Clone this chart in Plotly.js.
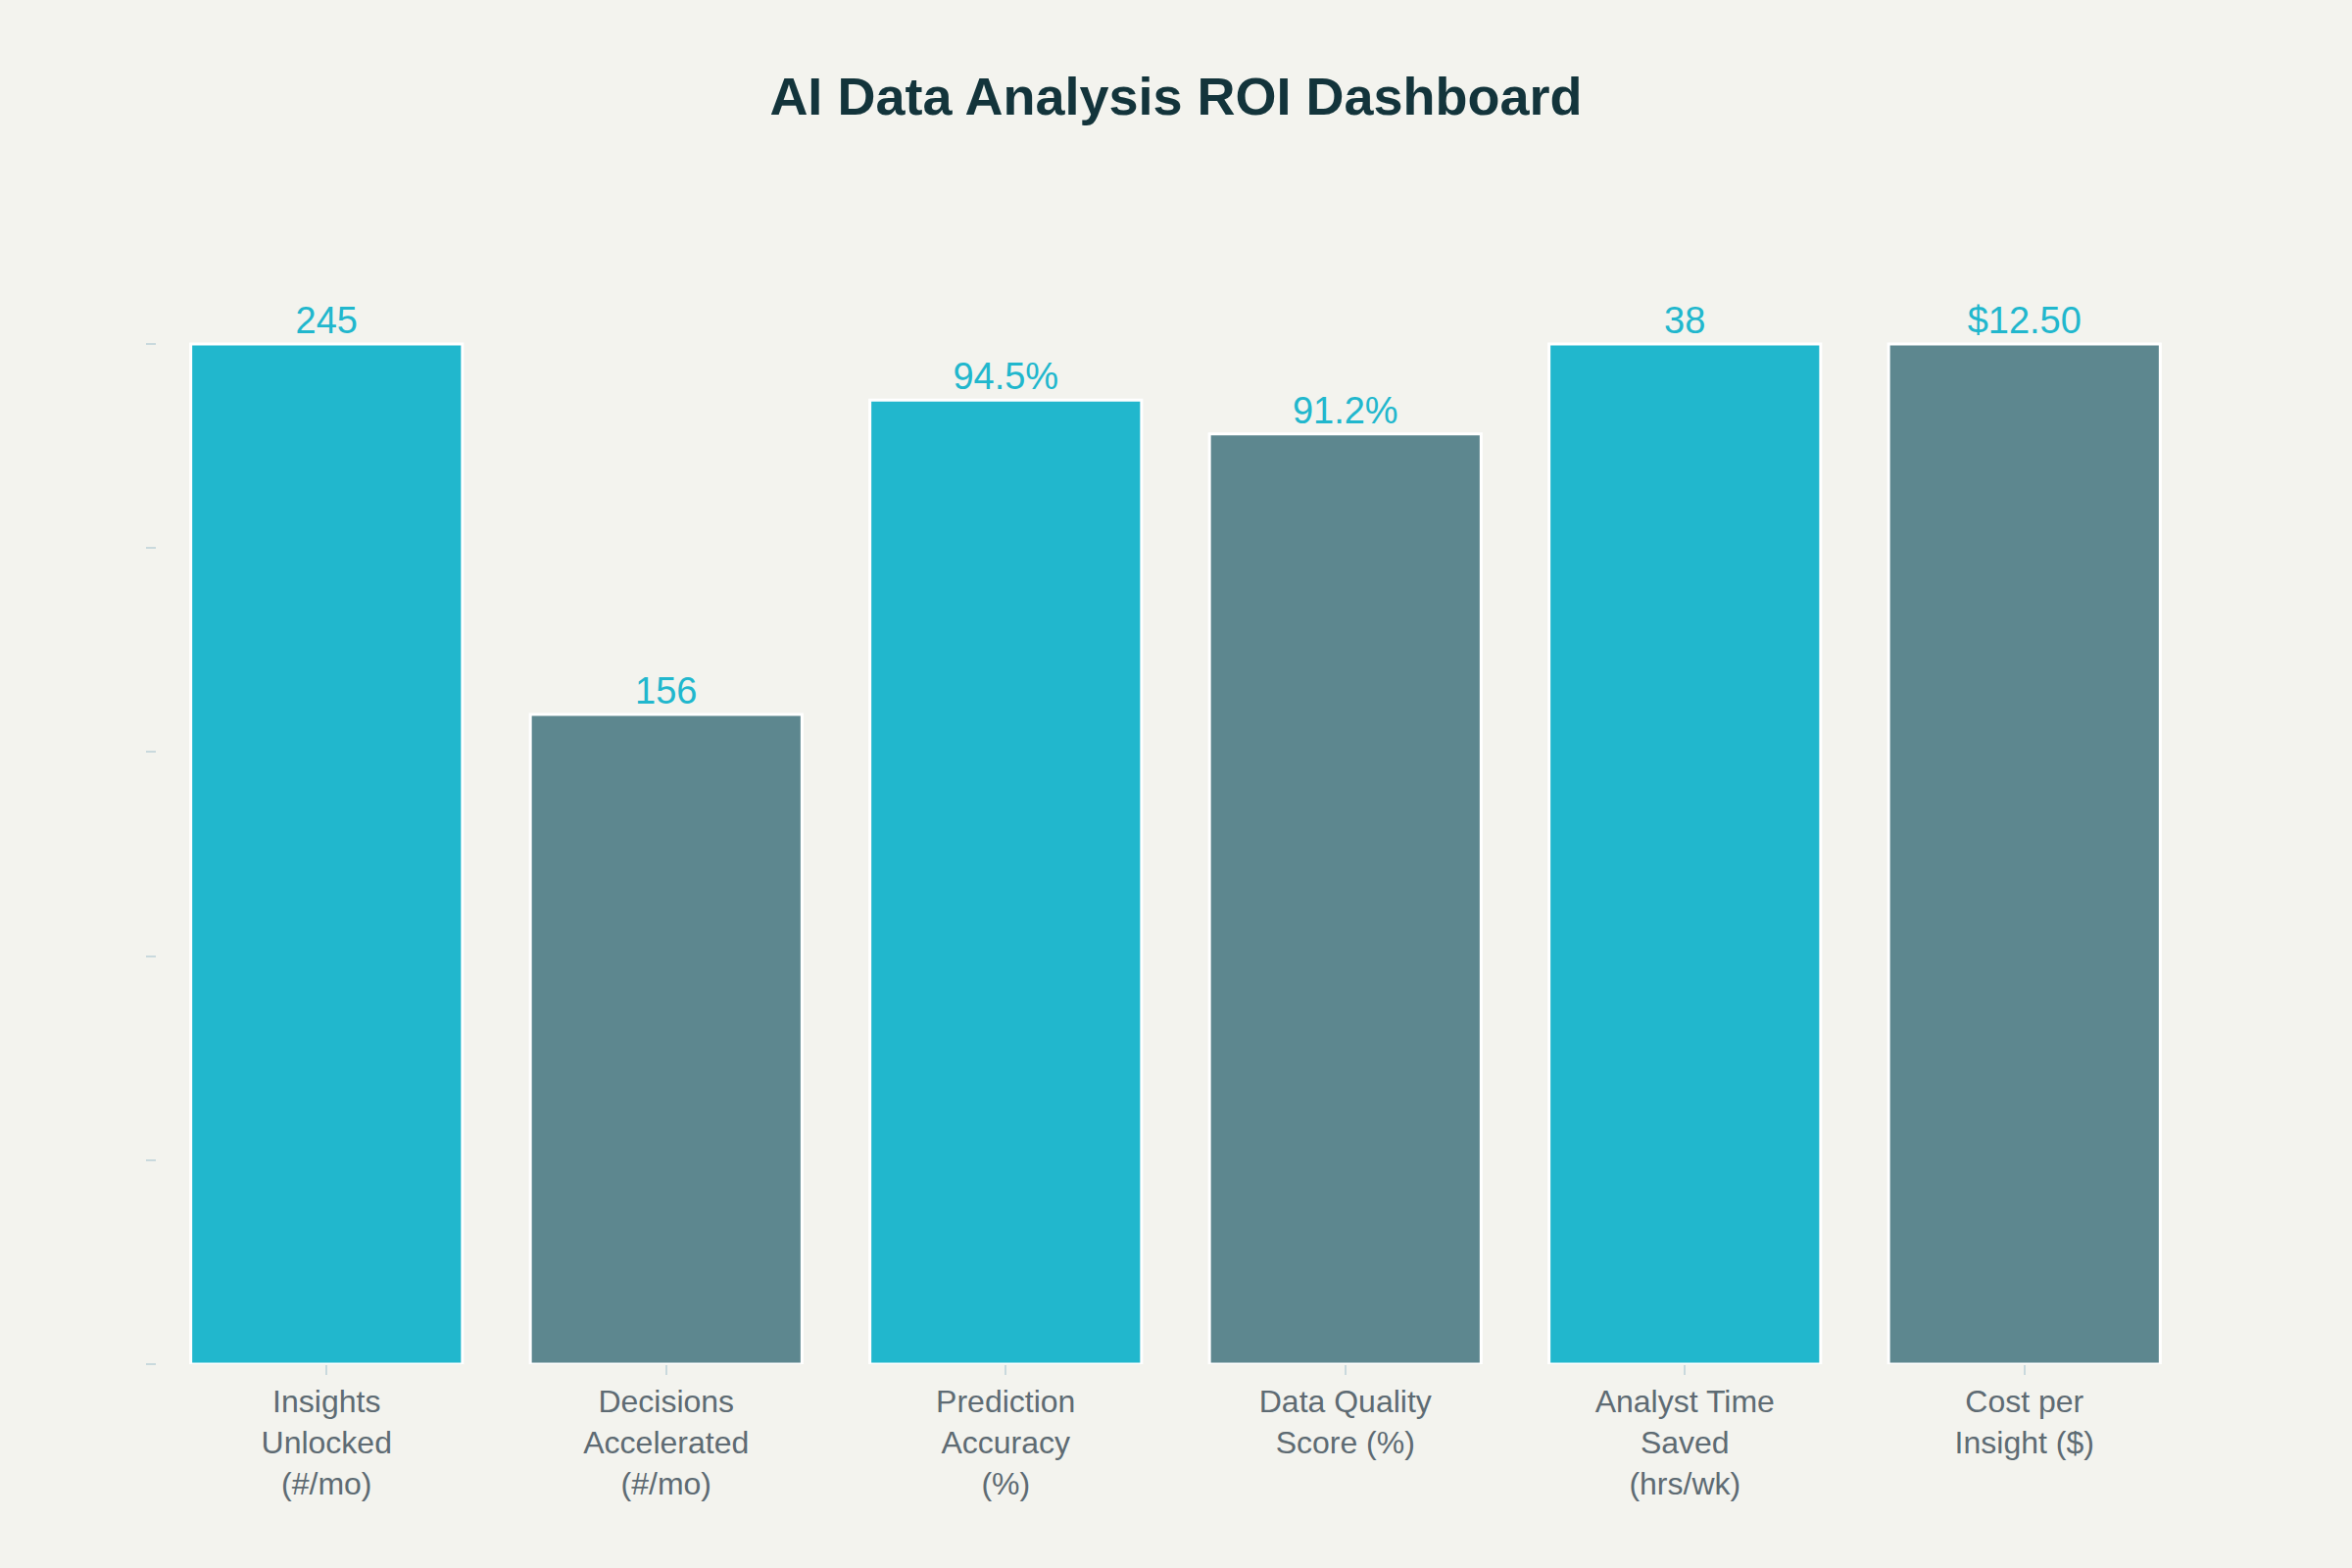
<!DOCTYPE html>
<html>
<head>
<meta charset="utf-8">
<script src="https://cdn.plot.ly/plotly-3.0.1.min.js"></script>
<style>html,body{margin:0;padding:0;background:#F3F3EE;}</style>
</head>
<body>
<div id="chart" style="width:2400px;height:1600px;"></div>
<script>
const categories = [
  "Insights<br>Unlocked<br>(#/mo)",
  "Decisions<br>Accelerated<br>(#/mo)",
  "Prediction<br>Accuracy<br>(%)",
  "Data Quality<br>Score (%)",
  "Analyst Time<br>Saved<br>(hrs/wk)",
  "Cost per<br>Insight ($)"
];
const heights = [100, 63.7, 94.5, 91.2, 100, 100];
const valueLabels = ["245", "156", "94.5%", "91.2%", "38", "$12.50"];
const barColors = ["#21B7CD", "#5D878F", "#21B7CD", "#5D878F", "#21B7CD", "#5D878F"];
const yTicks = [0, 20, 40, 60, 80, 100];

const font = "'Liberation Sans', 'DejaVu Sans', sans-serif";

Plotly.newPlot("chart", [{
  type: "bar",
  x: categories,
  y: heights,
  text: valueLabels,
  textposition: "outside",
  cliponaxis: false,
  textfont: {family: font, size: 38, color: "#21B7CD"},
  marker: {color: barColors, line: {color: "#FFFFFF", width: 3}},
  hoverinfo: "skip"
}], {
  width: 2400,
  height: 1600,
  paper_bgcolor: "#F3F3EE",
  plot_bgcolor: "#F3F3EE",
  margin: {l: 160, r: 161, t: 299, b: 208},
  bargap: 0.2,
  showlegend: false,
  title: {
    text: "<b>AI Data Analysis ROI Dashboard</b>",
    font: {family: font, size: 54, color: "#13343B"},
    x: 0.5, xanchor: "center", y: 0.939, yanchor: "middle"
  },
  xaxis: {
    type: "category",
    showgrid: false,
    zeroline: false,
    showline: false,
    ticks: "outside",
    ticklen: 10,
    tickwidth: 2,
    tickcolor: "#C9D9DD",
    tickfont: {family: font, size: 32, color: "#5E6B73"}
  },
  yaxis: {
    range: [0, 105],
    tickvals: yTicks,
    showticklabels: false,
    showgrid: false,
    zeroline: false,
    showline: false,
    ticks: "outside",
    ticklen: 10,
    tickwidth: 2,
    tickcolor: "#C9D9DD"
  },
  font: {family: font}
}, {displayModeBar: false, staticPlot: true});
</script>
</body>
</html>
